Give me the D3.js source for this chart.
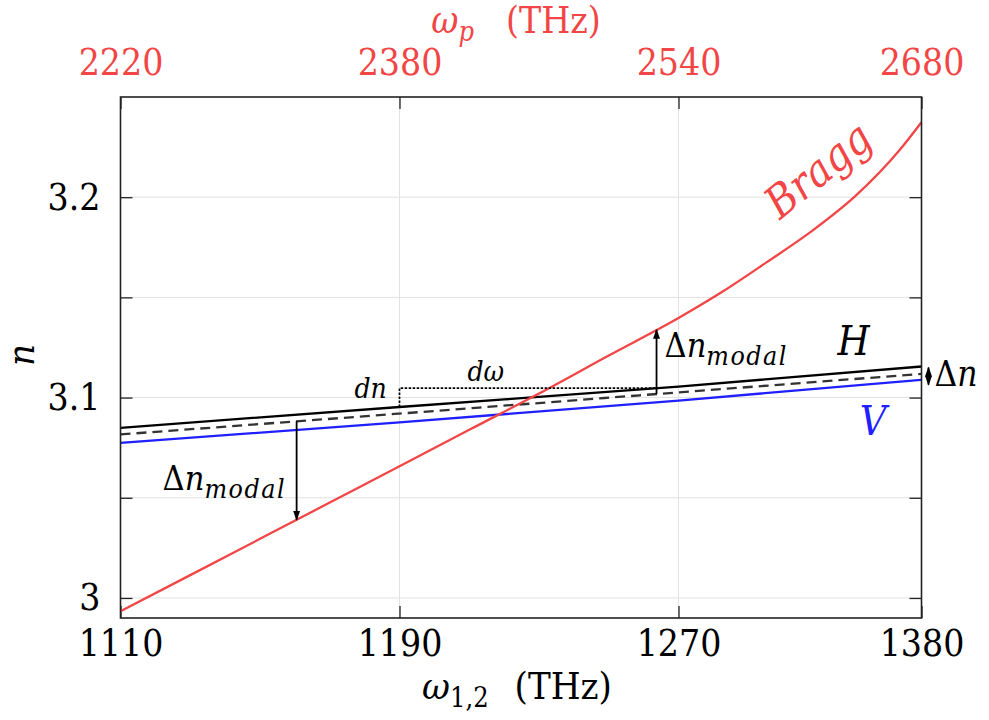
<!DOCTYPE html>
<html lang="en">
  <head>
    <meta charset="UTF-8" />
    <title>Bragg phase matching</title>
    <script src="https://cdn.jsdelivr.net/npm/d3@7"></script>
    <style>
      body {
        margin: 0;
        background: #fff;
      }
      svg {
        font-stretch: condensed;
      }
      .grid line {
        stroke: #e2e2e2;
        stroke-width: 1px;
      }
      .axis line {
        stroke: #222;
        stroke-width: 1.3px;
      }
      .mode {
        fill: none;
        stroke-width: 2.3px;
      }
    </style>
  </head>
  <body>
    <svg width="989" height="720"></svg>
    <script>
      // signal/idler frequency (THz) and pump frequency tick labels
      const omegaTicks = [1110, 1190, 1270, 1380];
      const pumpTicks = [2220, 2380, 2540, 2680];
      const nTicks = [3.0, 3.05, 3.1, 3.15, 3.2];
      const nLabels = [3.0, 3.1, 3.2];

      // Bragg mode index
      const braggOmega = [1110, 1130, 1150, 1170, 1190, 1210, 1230, 1250, 1270, 1290, 1310, 1330, 1350, 1370, 1380];
      const braggN = [2.9934, 3.0114, 3.0295, 3.0476, 3.0657, 3.0839, 3.102, 3.121, 3.1397, 3.1529, 3.1676, 3.1828, 3.2005, 3.2234, 3.2374];

      // H / V modes and their mean (dashed)
      const modeOmega = [1110, 1190, 1270, 1380];
      const nH = [3.0849, 3.0953, 3.1055, 3.1155];
      const nMean = [3.0816, 3.092, 3.1026, 3.1118];
      const nV = [3.0774, 3.0876, 3.0985, 3.1089];

      // where the annotation arrows sit
      const leftArrowOmega = 1160.5;
      const rightArrowOmega = 1263.7;

      const red = '#f24646';
      const blue = '#1f1fff';
      const FONT = "'DejaVu Serif Condensed', 'DejaVu Serif', serif";

      const svg = d3.select('svg').attr('font-family', FONT);
      const margin = { top: 97, left: 120.5 };
      const width = 801,
        height = 521;

      const defs = svg.append('defs');
      defs
        .append('marker')
        .attr('id', 'head')
        .attr('viewBox', '0 0 10 10')
        .attr('refX', 9)
        .attr('refY', 5)
        .attr('markerWidth', 10)
        .attr('markerHeight', 10)
        .attr('markerUnits', 'userSpaceOnUse')
        .attr('orient', 'auto-start-reverse')
        .append('path')
        .attr('d', 'M0,1.5L10,5L0,8.5Z')
        .attr('fill', '#000');

      const g = svg
        .append('g')
        .attr('transform', 'translate(' + margin.left + ',' + margin.top + ')');

      // the frequency axis is not linear in omega, so piecewise
      const x = d3
        .scaleLinear()
        .domain(omegaTicks)
        .range([0, 279, 558, width]);
      const xTop = d3
        .scaleLinear()
        .domain(pumpTicks)
        .range([0, 279, 558, width]);
      const y = d3.scaleLinear().domain([2.99, 3.25]).range([height, 0]);

      // grid
      const grid = g.append('g').attr('class', 'grid');
      grid
        .selectAll('.gy')
        .data(nTicks)
        .enter()
        .append('line')
        .attr('x1', 0)
        .attr('x2', width)
        .attr('y1', (d) => y(d))
        .attr('y2', (d) => y(d));
      grid
        .selectAll('.gx')
        .data(omegaTicks.slice(1, 3))
        .enter()
        .append('line')
        .attr('x1', (d) => x(d))
        .attr('x2', (d) => x(d))
        .attr('y1', 0)
        .attr('y2', height);

      // axes, ticks point inward
      const fmtN = (d) => (nLabels.includes(d) ? d3.format('.2~f')(d) : '');
      const axisFont = (a) =>
        a.attr('font-family', FONT).attr('font-size', 37).call((s) => s.select('.domain').remove());

      g.append('g')
        .attr('class', 'axis')
        .attr('transform', 'translate(0,' + height + ')')
        .call(d3.axisBottom(x).tickValues(omegaTicks).tickSize(-12).tickPadding(12).tickFormat(d3.format('d')))
        .call(axisFont);

      g.append('g')
        .attr('class', 'axis')
        .call(d3.axisTop(xTop).tickValues(pumpTicks).tickSize(-12).tickPadding(22).tickFormat(d3.format('d')))
        .call(axisFont)
        .call((a) => a.selectAll('text').attr('fill', red));

      g.append('g')
        .attr('class', 'axis')
        .call(d3.axisLeft(y).tickValues(nTicks).tickSize(-12).tickPadding(20).tickFormat(fmtN))
        .call(axisFont);

      g.append('g')
        .attr('class', 'axis')
        .attr('transform', 'translate(' + width + ',0)')
        .call(d3.axisRight(y).tickValues(nTicks).tickSize(-12).tickFormat(''))
        .call(axisFont);

      // curves
      const line = (xs, ys) =>
        d3
          .line()
          .x((d, i) => x(xs[i]))
          .y((d) => y(d))
          .curve(d3.curveMonotoneX)(ys);

      g.append('path').attr('class', 'mode').attr('stroke', blue).attr('d', line(modeOmega, nV));
      g.append('path')
        .attr('class', 'mode')
        .attr('stroke', '#333')
        .attr('stroke-width', 1.7)
        .attr('stroke-dasharray', '10,6')
        .attr('d', line(modeOmega, nMean));
      g.append('path').attr('class', 'mode').attr('stroke', '#000').attr('d', line(modeOmega, nH));
      g.append('path').attr('class', 'mode').attr('stroke', red).attr('d', line(braggOmega, braggN));

      // frame
      g.append('rect')
        .attr('width', width)
        .attr('height', height)
        .attr('fill', 'none')
        .attr('stroke', '#222')
        .attr('stroke-width', 1.6);

      // annotations
      const at = (xs, ys, w) => d3.scaleLinear().domain(xs).range(ys)(w);

      function arrow(x1, y1, x2, y2, both) {
        const p = g
          .append('line')
          .attr('x1', x1)
          .attr('y1', y1)
          .attr('x2', x2)
          .attr('y2', y2)
          .attr('stroke', '#000')
          .attr('stroke-width', 1.8)
          .attr('marker-end', 'url(#head)');
        if (both) p.attr('marker-start', 'url(#head)');
      }

      function deltaN(px, py, size, sub) {
        const t = g.append('text').attr('x', px).attr('y', py).attr('font-size', size);
        t.append('tspan').text('Δ');
        t.append('tspan').attr('font-style', 'italic').text('n');
        if (sub)
          t.append('tspan')
            .attr('font-style', 'italic')
            .attr('font-size', size * 0.78)
            .attr('dy', 8)
            .attr('letter-spacing', 1.5)
            .text(sub);
      }

      const xl = x(leftArrowOmega);
      arrow(xl, y(at(modeOmega, nMean, leftArrowOmega)), xl, y(at(braggOmega, braggN, leftArrowOmega)));
      deltaN(xl - 134, y(3.054), 34, 'modal');

      const xr = x(rightArrowOmega);
      const level = at(modeOmega, nH, rightArrowOmega);
      arrow(xr, y(at(modeOmega, nMean, rightArrowOmega)), xr, y(at(braggOmega, braggN, rightArrowOmega)));
      deltaN(xr + 8, y(3.1203), 34, 'modal');

      // dn / domega dotted guides
      g.append('path')
        .attr('fill', 'none')
        .attr('stroke', '#000')
        .attr('stroke-width', 1.7)
        .attr('stroke-dasharray', '2.5,1.5')
        .attr(
          'd',
          'M' + x(1190) + ',' + y(at(modeOmega, nH, 1190)) + 'V' + y(level) + 'H' + xr
        );
      g.append('text')
        .attr('x', x(1190) - 45)
        .attr('y', y(level) + 10)
        .attr('font-size', 28)
        .attr('font-style', 'italic')
        .text('dn');
      g.append('text')
        .attr('x', x(1190) + 68)
        .attr('y', y(level) - 7)
        .attr('font-size', 28)
        .attr('font-style', 'italic')
        .text('dω');

      // birefringence at the right edge
      arrow(width + 7, y(nH[3]) + 1, width + 7, y(nV[3]) + 5, true);
      deltaN(width + 13, y(nV[3]) + 6, 35);

      g.append('text')
        .attr('x', x(1342))
        .attr('y', y(3.1212))
        .attr('font-size', 41)
        .attr('font-style', 'italic')
        .text('H');
      g.append('text')
        .attr('x', x(1352))
        .attr('y', y(3.0814))
        .attr('font-size', 41)
        .attr('font-style', 'italic')
        .attr('fill', blue)
        .text('V');

      g.append('text')
        .attr('transform', 'translate(' + x(1316) + ',' + y(3.1885) + ') rotate(-39)')
        .attr('font-size', 44)
        .attr('font-style', 'italic')
        .attr('fill', red)
        .text('Bragg');

      // axis titles
      const xt = svg
        .append('text')
        .attr('x', 517)
        .attr('y', 699)
        .attr('text-anchor', 'middle')
        .attr('font-size', 38);
      xt.append('tspan').attr('font-style', 'italic').text('ω');
      xt.append('tspan').attr('font-size', 27).attr('dy', 8).text('1,2');
      xt.append('tspan').attr('dy', -8).attr('dx', 26).text('(THz)');

      const tt = svg
        .append('text')
        .attr('x', 516)
        .attr('y', 33)
        .attr('text-anchor', 'middle')
        .attr('font-size', 37)
        .attr('fill', red);
      tt.append('tspan').attr('font-style', 'italic').text('ω');
      tt.append('tspan').attr('font-style', 'italic').attr('font-size', 27).attr('dy', 8).text('p');
      tt.append('tspan').attr('dy', -8).attr('dx', 32).text('(THz)');

      svg
        .append('text')
        .attr('transform', 'translate(34,355) rotate(-90)')
        .attr('text-anchor', 'middle')
        .attr('font-size', 38)
        .attr('font-style', 'italic')
        .text('n');
    </script>
  </body>
</html>
